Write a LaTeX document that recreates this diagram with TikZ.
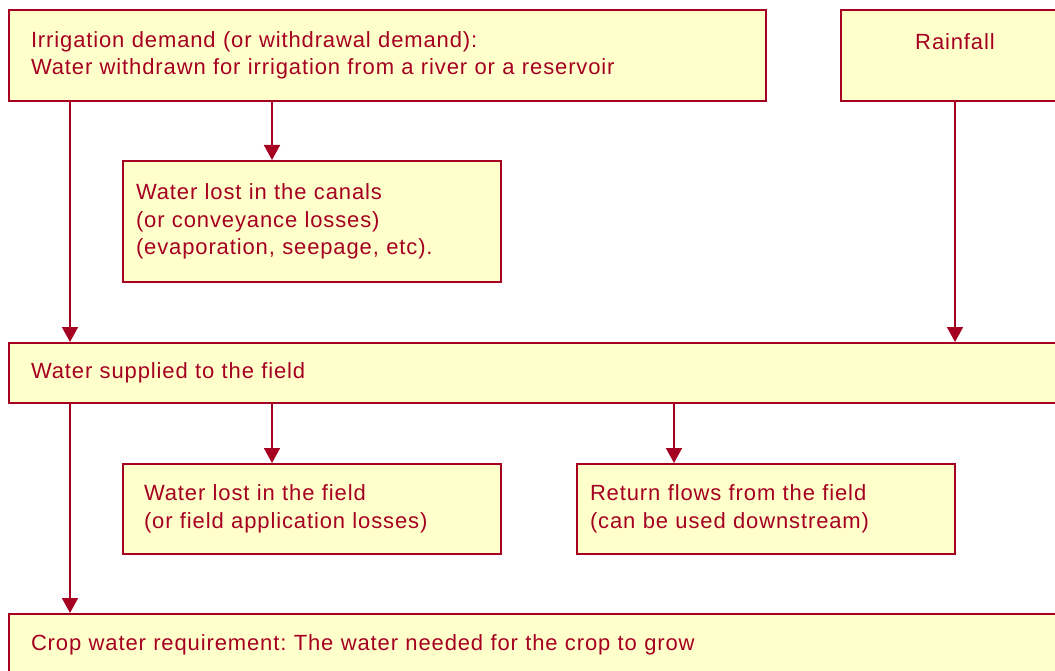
\documentclass[tikz,border=0pt]{standalone}
\usepackage{fontspec}
\setmainfont{Liberation Sans}[LetterSpace=4]
\usetikzlibrary{arrows.meta}
\definecolor{boxred}{HTML}{A50021}
\definecolor{boxfill}{HTML}{FFFFCC}
\frenchspacing
\tikzset{
  box/.style={draw=boxred, fill=boxfill, line width=2pt, text=boxred,
    anchor=north west, align=left, inner xsep=22pt, inner ysep=0pt,
    font=\fontsize{22}{27.5}\selectfont},
  flow/.style={draw=boxred, line width=1.8pt, -{Triangle[length=15pt,width=16pt]}}
}
\begin{document}
\begin{tikzpicture}[x=1pt, y=-1pt]
  \clip (0,0) rectangle (1055,671);
  \node[box, minimum width=757pt, minimum height=91pt, text width=713pt] (demand) at (8,9)
    {Irrigation demand (or withdrawal demand):\\Water withdrawn for irrigation from a river or a reservoir};
  \node[box, align=center, minimum width=228pt, minimum height=91pt, text width=184pt] (rain) at (840,9)
    {Rainfall\\\mbox{}};
  \node[box, inner xsep=13pt, minimum width=378pt, minimum height=121pt, text width=352pt] (canal) at (122,160)
    {Water lost in the canals\\(or conveyance losses)\\(evaporation, seepage, etc).};
  \node[box, minimum width=1070pt, minimum height=60pt, text width=1026pt] (supply) at (8,342)
    {Water supplied to the field};
  \node[box, inner xsep=21pt, minimum width=378pt, minimum height=90pt, text width=336pt] (fieldloss) at (122,463)
    {Water lost in the field\\(or field application losses)};
  \node[box, inner xsep=13pt, minimum width=378pt, minimum height=90pt, text width=352pt] (return) at (576,463)
    {Return flows from the field\\(can be used downstream)};
  \node[box, minimum width=1070pt, minimum height=62pt, text width=1026pt] (crop) at (8,613)
    {Crop water requirement: The water needed for the crop to grow};
  \draw[flow] ([xshift=62pt]demand.south west) -- ([xshift=62pt]supply.north west);
  \draw[flow] ([xshift=150pt]canal.north west |- demand.south) -- ([xshift=150pt]canal.north west);
  \draw[flow] (rain.south) -- (rain.south |- supply.north);
  \draw[flow] ([xshift=62pt]supply.south west) -- ([xshift=62pt]crop.north west);
  \draw[flow] ([xshift=150pt]fieldloss.north west |- supply.south) -- ([xshift=150pt]fieldloss.north west);
  \draw[flow] ([xshift=98pt]return.north west |- supply.south) -- ([xshift=98pt]return.north west);
\end{tikzpicture}
\end{document}
